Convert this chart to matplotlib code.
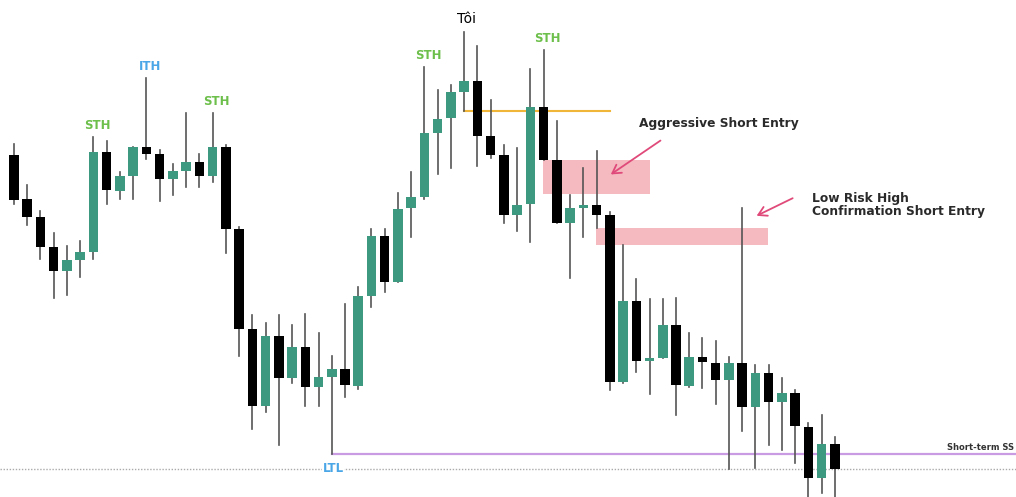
import matplotlib
matplotlib.use("Agg")
import matplotlib.pyplot as plt
import numpy as np

# candle prices (arbitrary units), left to right
opens = [342, 298, 280, 250, 226, 237, 245, 345, 306, 321, 350, 343, 318, 326, 335, 321,
         350, 268, 168, 91, 161, 119, 150, 110, 120, 128, 111, 201, 261, 215, 289, 300,
         364, 379, 405, 416, 361, 342, 282, 293, 390, 337, 274, 289, 292, 282, 115, 196,
         136, 139, 172, 111, 140, 134, 117, 134, 90, 124, 95, 104, 70, 19, 53]
closes = [297, 280, 250, 226, 237, 245, 345, 307, 321, 350, 343, 318, 326, 335, 321, 350,
          268, 168, 91, 161, 119, 150, 110, 120, 128, 112, 201, 261, 215, 288, 300, 364,
          378, 405, 416, 361, 342, 282, 292, 390, 337, 274, 289, 292, 282, 115, 196, 136,
          139, 172, 112, 140, 135, 117, 134, 90, 124, 95, 104, 71, 19, 53, 28]
highs = [353, 312, 286, 264, 251, 256, 360, 356, 325, 350, 419, 347, 333, 384, 343, 384,
         352, 270, 182, 174, 182, 172, 183, 164, 141, 193, 210, 268, 268, 304, 325, 430,
         407, 412, 465, 451, 397, 352, 349, 428, 447, 376, 302, 329, 346, 285, 252, 218,
         198, 198, 199, 164, 159, 156, 140, 289, 132, 132, 119, 107, 74, 82, 60]
lows = [293, 272, 238, 199, 202, 220, 238, 293, 298, 298, 338, 296, 302, 310, 310, 315,
        244, 141, 68, 85, 52, 114, 91, 91, 43, 100, 108, 190, 205, 215, 260, 298,
        323, 329, 386, 331, 339, 274, 266, 255, 337, 274, 219, 260, 269, 107, 114, 125,
        103, 139, 82, 110, 109, 93, 28, 66, 29, 52, 47, 34, 0, 4, 0]

labels = ["STH", "ITH", "STH", "STH", "STH"]
label_idx = [6, 10, 15, 31, 40]
label_col = ["#6cbf4a", "#4aa6e6", "#6cbf4a", "#6cbf4a", "#6cbf4a"]

top_high = 34          # "Tôi" candle
resist = 386           # orange level
ltl_level = 43         # purple line
base_level = 28        # dotted line
zone1 = (39.95, 48.0, 303, 337)
zone2 = (43.96, 56.95, 252, 269)

green = "#3d9a80"
wick = "#555555"

fig = plt.figure(figsize=(10.16, 4.97), dpi=100)
ax = fig.add_axes([0, 0, 1, 1])
x = np.arange(len(opens))

# zones first so candles sit on top
ax.add_patch(plt.Rectangle((zone1[0], zone1[2]), zone1[1] - zone1[0], zone1[3] - zone1[2],
                           color="#f3b3b9", alpha=0.9, lw=0, zorder=1))
ax.add_patch(plt.Rectangle((zone2[0], zone2[2]), zone2[1] - zone2[0], zone2[3] - zone2[2],
                           color="#f3b3b9", alpha=0.9, lw=0, zorder=1))

ax.axhline(base_level, color="#aaaaaa", lw=1, ls=(0, (1, 1.2)), zorder=0)
ax.plot([24, 80], [ltl_level, ltl_level], color="#c99be3", lw=1.6, zorder=1)
ax.plot([top_high, 45], [resist, resist], color="#f0b63a", lw=1.5, zorder=1)

for i in x:
    o, c, h, l = opens[i], closes[i], highs[i], lows[i]
    col = green if c > o else "black"
    ax.plot([i, i], [l, h], color=wick, lw=1.2, zorder=2)
    bot = min(o, c)
    hgt = max(abs(c - o), 3)
    ax.bar(i, hgt, bottom=bot, width=0.72, color=col, lw=0, zorder=3)

for t, i, cl in zip(labels, label_idx, label_col):
    ax.text(i + 0.3, highs[i] + 5, t, color=cl, fontsize=8.5, fontweight="bold",
            ha="center", va="bottom")
ax.text(top_high + 0.2, highs[top_high] + 6, "Tôi", color="black", fontsize=10,
        ha="center", va="bottom")

ax.text(24.1, base_level, "LTL", color="#4aa6e6", fontsize=8.5, fontweight="bold",
        ha="center", va="center",
        bbox=dict(facecolor="white", edgecolor="none", pad=0.5))

ax.text(47.2, 374, "Aggressive Short Entry", color="#2a2a2a", fontsize=8.8,
        fontweight="bold", ha="left", va="center")
ax.text(60.27, 292, "Low Risk High\nConfirmation Short Entry", color="#2a2a2a",
        fontsize=8.8, fontweight="bold", ha="left", va="center", linespacing=0.95)
ax.text(75.5, 50, "Short-term SS", color="#333333", fontsize=6,
        fontweight="bold", ha="right", va="center")

arrow = dict(arrowstyle="->,head_length=0.6,head_width=0.35", color="#e04a7a", lw=1.3)
ax.annotate("", xy=(44.9, 321), xytext=(49.0, 358), arrowprops=arrow)
ax.annotate("", xy=(55.9, 280), xytext=(59.0, 300), arrowprops=arrow)

ax.set_xlim(-14 / 13.24, (1016 - 14) / 13.24)
ax.set_ylim(0, 497)
ax.axis("off")
fig.savefig("out.png", dpi=100, facecolor="white")
